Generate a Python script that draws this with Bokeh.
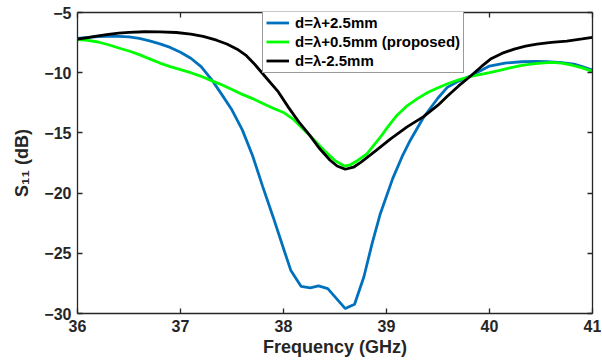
from bokeh.plotting import figure
from bokeh.models import LinearAxis, Legend, LegendItem, FixedTicker, Range1d
from bokeh.embed import file_html
from bokeh.resources import INLINE

# ---- data ----
freq_a = [36.0, 36.1, 36.2, 36.3, 36.4, 36.5, 36.6, 36.7, 36.8, 36.9, 37.0, 37.1, 37.2, 37.3,
          37.4, 37.5, 37.6, 37.7, 37.8, 37.9, 38.0, 38.07, 38.17, 38.26, 38.34, 38.43, 38.6,
          38.69, 38.78, 38.86, 38.94, 39.06, 39.15, 39.23, 39.36, 39.5, 39.59, 39.7, 39.82,
          40.0, 40.15, 40.31, 40.45, 40.56, 40.7, 40.82, 40.9, 41.0]
s11_a = [-7.15, -7.06, -7.0, -6.98, -6.99, -7.03, -7.15, -7.35, -7.6, -7.9, -8.3, -8.8, -9.5,
         -10.55, -11.8, -13.1, -14.75, -16.9, -19.5, -22.0, -24.6, -26.4, -27.74, -27.88,
         -27.71, -27.93, -29.59, -29.23, -26.97, -24.2, -21.71, -18.8, -17.0, -15.63, -13.7,
         -12.1, -11.22, -10.7, -10.25, -9.45, -9.2, -9.09, -9.06, -9.09, -9.16, -9.28, -9.5,
         -9.78]

freq_b = [36.0, 36.1, 36.2, 36.3, 36.4, 36.5, 36.6, 36.7, 36.8, 36.9, 37.0, 37.1, 37.2, 37.3,
          37.4, 37.5, 37.6, 37.7, 37.8, 37.9, 38.0, 38.1, 38.2, 38.3, 38.4, 38.5, 38.59, 38.65,
          38.72, 38.81, 38.94, 39.0, 39.1, 39.2, 39.3, 39.4, 39.5, 39.6, 39.7, 39.82, 40.0,
          40.1, 40.2, 40.3, 40.4, 40.5, 40.6, 40.7, 40.8, 40.9, 41.0]
s11_b = [-7.26, -7.32, -7.45, -7.68, -7.95, -8.2, -8.5, -8.85, -9.2, -9.5, -9.75, -10.0,
         -10.3, -10.66, -11.0, -11.4, -11.8, -12.15, -12.55, -12.95, -13.3, -13.9, -14.75,
         -15.6, -16.5, -17.3, -17.75, -17.65, -17.29, -16.74, -15.36, -14.65, -13.55, -12.75,
         -12.15, -11.65, -11.25, -10.9, -10.6, -10.3, -10.0, -9.8, -9.6, -9.42, -9.28, -9.2,
         -9.14, -9.2, -9.38, -9.6, -9.89]

freq_c = [36.0, 36.1, 36.2, 36.3, 36.4, 36.5, 36.65, 36.8, 36.96, 37.1, 37.22, 37.35, 37.45,
          37.55, 37.64, 37.72, 37.84, 37.95, 38.05, 38.15, 38.25, 38.35, 38.45, 38.52, 38.6,
          38.68, 38.75, 38.81, 38.9, 39.04, 39.2, 39.36, 39.5, 39.59, 39.7, 39.82, 39.92,
          40.01, 40.12, 40.24, 40.35, 40.46, 40.6, 40.75, 40.9, 41.0]
s11_c = [-7.21, -7.08, -6.95, -6.82, -6.72, -6.65, -6.6, -6.61, -6.66, -6.8, -6.99, -7.3,
         -7.62, -8.05, -8.59, -9.3, -10.5, -11.6, -12.9, -14.1, -15.15, -16.3, -17.25, -17.75,
         -18.02, -17.85, -17.45, -17.05, -16.45, -15.5, -14.5, -13.65, -12.7, -11.95, -11.1,
         -10.25, -9.5, -8.87, -8.4, -8.04, -7.8, -7.62, -7.48, -7.38, -7.2, -7.07]

labels = ["d=\u03bb+2.5mm", "d=\u03bb+0.5mm (proposed)", "d=\u03bb-2.5mm"]
colors = ["#0072BD", "#00FF00", "#000000"]

x_ticks = [36, 37, 38, 39, 40, 41]
y_ticks = [-30, -25, -20, -15, -10, -5]

FONT = "Liberation Sans"
TXT = "#262626"
FW, FH = 515, 301

p = figure(frame_width=FW, frame_height=FH,
           x_range=Range1d(36, 41), y_range=Range1d(-30, -5),
           output_backend="svg", toolbar_location=None,
           min_border_left=77, min_border_right=9, min_border_top=12, min_border_bottom=0)

p.xgrid.grid_line_color = None
p.ygrid.grid_line_color = None
p.outline_line_color = None
p.background_fill_color = "white"
p.border_fill_color = "white"

def style_axis(ax, ticks, show_labels):
    ax.ticker = FixedTicker(ticks=ticks)
    ax.axis_line_color = TXT
    ax.axis_line_width = 1.3
    ax.major_tick_line_color = TXT
    ax.major_tick_line_width = 1.3
    ax.major_tick_in = 5
    ax.major_tick_out = 0
    ax.minor_tick_line_color = None
    ax.major_label_text_font = FONT
    ax.major_label_text_font_style = "bold"
    ax.major_label_text_color = TXT
    if show_labels:
        ax.major_label_text_font_size = "16px"
        ax.major_label_standoff = 6
    else:
        ax.major_label_text_font_size = "0px"
        ax.major_label_text_alpha = 0
        ax.major_label_standoff = 0

style_axis(p.xaxis[0], x_ticks, True)
style_axis(p.yaxis[0], y_ticks, True)
p.xaxis[0].axis_label = "Frequency (GHz)"
p.yaxis[0].axis_label = "S\u2081\u2081 (dB)"
for ax in (p.xaxis[0], p.yaxis[0]):
    ax.axis_label_text_font = FONT
    ax.axis_label_text_font_style = "bold"
    ax.axis_label_text_font_size = "18px"
    ax.axis_label_text_color = TXT
p.xaxis[0].axis_label_standoff = 2
p.yaxis[0].axis_label_standoff = 9

top_ax = LinearAxis()
style_axis(top_ax, x_ticks, False)
p.add_layout(top_ax, "above")
right_ax = LinearAxis()
style_axis(right_ax, y_ticks, False)
p.add_layout(right_ax, "right")

rs = []
for f, s, c in zip([freq_a, freq_b, freq_c], [s11_a, s11_b, s11_c], colors):
    rs.append(p.line(f, s, line_color=c, line_width=2.8))

legend = Legend(items=[LegendItem(label=l, renderers=[r]) for l, r in zip(labels, rs)],
                location=(185, FH - 61))
legend.label_text_font = FONT
legend.label_text_font_style = "bold"
legend.label_text_font_size = "15px"
legend.label_text_color = "#000000"
legend.label_height = 17
legend.glyph_height = 17
legend.glyph_width = 23
legend.label_standoff = 6
legend.spacing = 2
legend.padding = 3
legend.margin = 0
legend.border_line_color = "#333333"
legend.border_line_width = 1
legend.background_fill_color = "white"
legend.background_fill_alpha = 1
p.add_layout(legend)

open("out.html", "w").write(file_html(p, INLINE))
